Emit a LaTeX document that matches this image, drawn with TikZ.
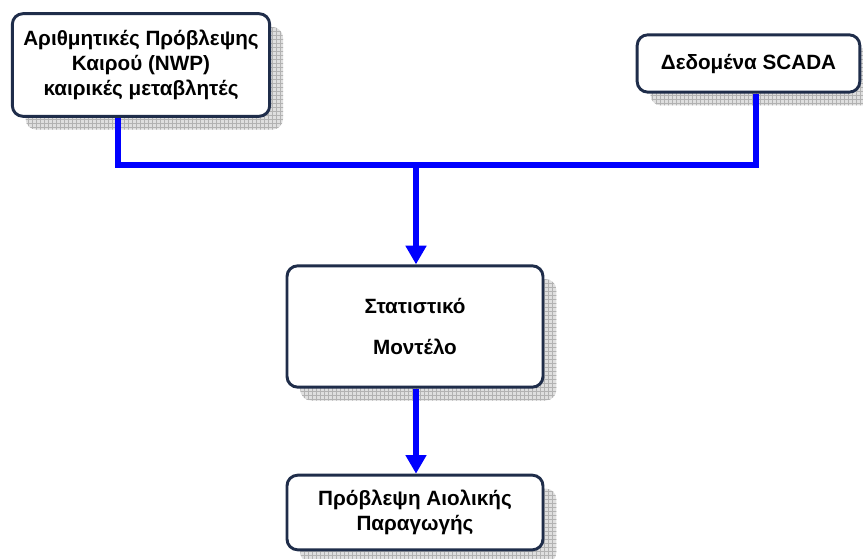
\documentclass[tikz,border=0pt]{standalone}
\usepackage{fontspec}
\setmainfont{Liberation Sans}
\usepackage{tikz}
\usepackage{xcolor}
\usetikzlibrary{arrows.meta, positioning, patterns, shadows}
\definecolor{Box_Navy}{HTML}{1F2D4A}
\definecolor{Wire_Blue}{HTML}{0000FF}

\begin{document}
\begin{tikzpicture}[x=0.75pt, y=-0.75pt,
    block/.style={draw=Box_Navy, line width=2.2pt, rounded corners=8pt, fill=white,
        align=center, font=\bfseries\fontsize{15.5}{19}\selectfont,
        general shadow={fill=gray!25, rounded corners=8pt, shadow xshift=10pt, shadow yshift=-10pt},
        general shadow={pattern=grid, pattern color=gray!60, rounded corners=8pt, shadow xshift=10pt, shadow yshift=-10pt}},
    wire/.style={draw=Wire_Blue, line width=5.2pt},
    tip/.style={-{Triangle[width=15pt, length=14pt]}}]
    \useasboundingbox (0,0) rectangle (863,559);

    % Input boxes
    \node[block, minimum width=193pt, minimum height=77pt] (nwp) at (141,65)
        {Αριθμητικές Πρόβλεψης\\Καιρού (NWP)\hspace*{25pt}\\καιρικές μεταβλητές};
    \node[block, minimum width=167pt, minimum height=43pt] (scada) at (748.5,63.5)
        {Δεδομένα SCADA};

    % Model and output
    \node[block, minimum width=192pt, minimum height=91pt] (model) at (415,326.5)
        {Στατιστικό\\[12pt]Μοντέλο};
    \node[block, minimum width=192pt, minimum height=56pt] (wind) at (415,512.5)
        {Πρόβλεψη Αιολικής\\Παραγωγής};

    % Collector line
    \coordinate (jl) at (118,165);
    \coordinate (jc) at (416,165);
    \coordinate (jr) at (756,165);
    \draw[wire] (nwp.south -| jl) -- (jl) -- (jr) -- (scada.south -| jr);
    \draw[wire, tip] (jc) -- (model.north -| jc);
    \draw[wire, tip] (model.south -| jc) -- (wind.north -| jc);
\end{tikzpicture}
\end{document}
